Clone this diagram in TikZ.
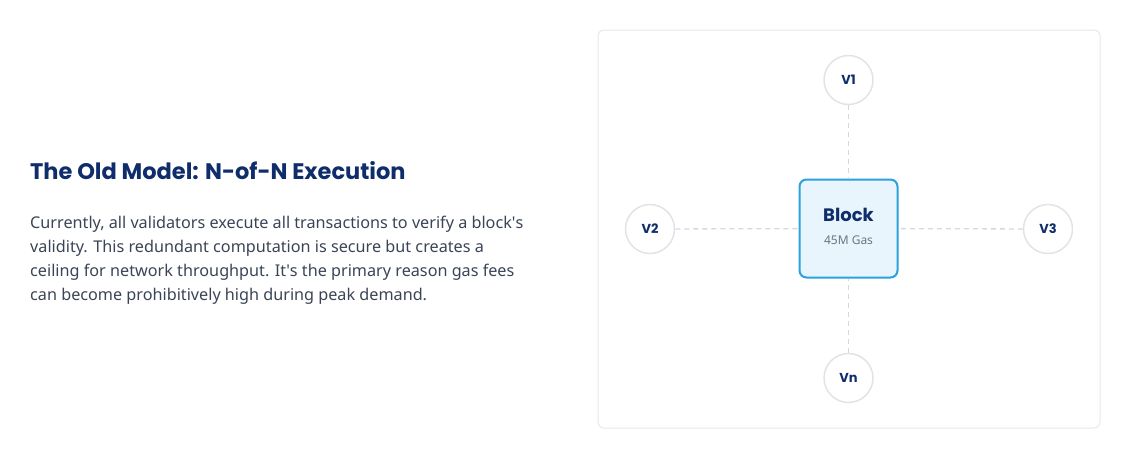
\documentclass[tikz,border=0pt]{standalone}
\usepackage{fontspec}
\setmainfont{Noto Sans}
\newfontfamily\headfont{Poppins}
\usetikzlibrary{positioning}

\definecolor{navy}{HTML}{0F2D6B}
\definecolor{bodygray}{HTML}{3A4456}
\definecolor{panelline}{HTML}{E3E7EC}
\definecolor{ringline}{HTML}{E0E4E9}
\definecolor{dashline}{HTML}{D3D9E1}
\definecolor{blockline}{HTML}{2BA2DD}
\definecolor{blockfill}{HTML}{E8F5FD}
\definecolor{gaslabel}{HTML}{6B7585}

\tikzset{
  validator/.style={circle, draw=ringline, line width=1.5pt, fill=white,
    minimum size=49pt, inner sep=0pt, text=navy, font=\headfont\bfseries\fontsize{13}{13}\selectfont},
  blockbox/.style={draw=blockline, line width=2pt, fill=blockfill, rounded corners=7pt,
    minimum width=98pt, minimum height=98pt, inner sep=0pt},
  link/.style={draw=dashline, line width=1.3pt, dash pattern=on 5pt off 4pt}
}

\begin{document}
\begin{tikzpicture}[x=1pt,y=1pt,yscale=-1]
      \useasboundingbox (0,0) rectangle (1131,459);

      % Panel
      \draw [draw=panelline, line width=1pt, rounded corners=6pt] (598,30) rectangle (1100,428);

      % Block and validators
      \node [blockbox] (block) at (848.5,228.5) {};
      \node [validator] (v1) at (848.5,80) {V1};
      \node [validator] (v2) at (650,229) {V2};
      \node [validator] (v3) at (1048,229) {V3};
      \node [validator] (vn) at (848.5,378) {Vn};

      % Links
      \draw [link] (v1) -- (block);
      \draw [link] (v2) -- (block);
      \draw [link] (v3) -- (block);
      \draw [link] (vn) -- (block);

      % Block labels
      \node [anchor=base, text=navy, font=\headfont\bfseries\fontsize{18}{18}\selectfont] (blocktitle) at (848.5,221) {Block};
      \node [anchor=base, text=gaslabel, font=\fontsize{12}{12}\selectfont] (gas) at (848.5,244) {45M Gas};

      % Text Node
      \node [anchor=base west, inner sep=0pt, text=navy, font=\headfont\bfseries\fontsize{22.5}{22.5}\selectfont] (title) at (30,179) {The Old Model: N-of-N Execution};
      % Text Node
      \node [anchor=base west, inner sep=0pt, align=left, text=bodygray, font=\fontsize{16.2}{24}\selectfont] (body) at (30,300)
        {Currently, all validators execute all transactions to verify a block\textquotesingle s\\
         validity. This redundant computation is secure but creates a\\
         ceiling for network throughput. It\textquotesingle s the primary reason gas fees\\
         can become prohibitively high during peak demand.};
\end{tikzpicture}
\end{document}
